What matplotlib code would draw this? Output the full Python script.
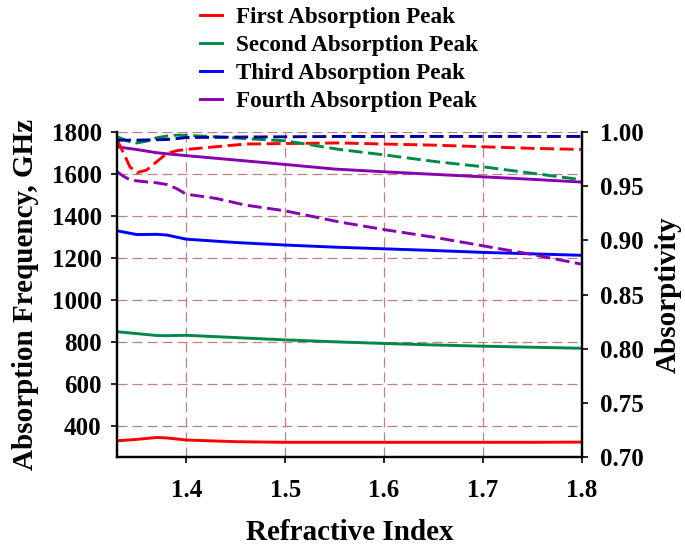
import numpy as np
import matplotlib
matplotlib.use("Agg")
import matplotlib.pyplot as plt
from matplotlib.lines import Line2D

plt.rcParams['font.family'] = ['Liberation Serif', 'DejaVu Serif']
plt.rcParams['font.weight'] = 'bold'

# absorption frequency (left axis, GHz)
x_freq = [1.33, 1.35, 1.37, 1.38, 1.40, 1.45, 1.50, 1.55, 1.60, 1.65, 1.70, 1.75, 1.80]
red_freq = [329, 336, 345, 343, 333, 325, 322, 322, 322, 322, 322, 322, 323]
green_freq = [849, 840, 831, 830, 832, 821, 810, 801, 793, 786, 780, 775, 770]
blue_freq = [1330, 1312, 1313, 1310, 1290, 1274, 1262, 1252, 1244, 1236, 1227, 1220, 1213]
purple_freq = [1730, 1717, 1702, 1697, 1688, 1667, 1646, 1624, 1611, 1599, 1587, 1575, 1562]

# absorptivity (right axis)
x_abs = [1.33, 1.337, 1.343, 1.35, 1.36, 1.37, 1.38, 1.39, 1.40, 1.43, 1.46,
         1.50, 1.555, 1.60, 1.65, 1.70, 1.75, 1.80]
red_abs = [0.993, 0.980, 0.968, 0.9625, 0.965, 0.9726, 0.980, 0.9828, 0.984, 0.9865,
           0.989, 0.9895, 0.990, 0.989, 0.988, 0.9865, 0.985, 0.984]
green_abs = [0.9957, 0.9932, 0.991, 0.990, 0.9917, 0.9948, 0.9963, 0.9972, 0.997, 0.9957,
             0.994, 0.992, 0.984, 0.979, 0.973, 0.968, 0.962, 0.956]
blue_abs = [0.9926, 0.9926, 0.9926, 0.9926, 0.9928, 0.993, 0.9932, 0.994, 0.995, 0.9953,
            0.9955, 0.9957, 0.996, 0.996, 0.996, 0.996, 0.996, 0.996]
purple_abs = [0.9634, 0.959, 0.956, 0.955, 0.954, 0.9532, 0.9517, 0.948, 0.9427, 0.9388,
              0.9326, 0.9273, 0.917, 0.910, 0.903, 0.895, 0.887, 0.878]

labels = ['First Absorption Peak', 'Second Absorption Peak',
          'Third Absorption Peak', 'Fourth Absorption Peak']
colors = ['#ff0000', '#00884a', '#0000ff', '#8800b0']
dash_colors = ['#ff0000', '#00884a', '#0000a0', '#8800b0']

fig = plt.figure(figsize=(6.85, 5.46), dpi=100)
ax = fig.add_axes([0.1708, 0.163, 0.6788, 0.595])
ax2 = ax.twinx()

lw = 2.1
for y, c in zip([red_freq, green_freq, blue_freq, purple_freq], colors):
    ax.plot(x_freq, y, color=c, lw=lw, solid_capstyle='butt')
for y, c in zip([red_abs, green_abs, blue_abs, purple_abs], dash_colors):
    ax2.plot(x_abs, y, color=c, lw=lw, dashes=(4.8, 1.9))

ax.set_xlim(1.33, 1.8)
ax.set_ylim(252, 1800)
ax2.set_ylim(0.70, 1.00)
ax.set_xticks([1.4, 1.5, 1.6, 1.7, 1.8])
ax.set_yticks(np.arange(400, 1801, 200))
ax2.set_yticks([0.70, 0.75, 0.80, 0.85, 0.90, 0.95, 1.00])
ax2.set_yticklabels([f'{v:.2f}' for v in [0.70, 0.75, 0.80, 0.85, 0.90, 0.95, 1.00]])

ax.grid(True, color='#c08080', linestyle=(0, (8, 4)), lw=0.9)
ax.set_axisbelow(True)

for a in (ax, ax2):
    a.spines['top'].set_visible(False)
    for s in ('left', 'right', 'bottom'):
        a.spines[s].set_linewidth(1.6)
    a.tick_params(labelsize=18, width=1.2, length=4, direction='out')

ax.tick_params(axis='x', pad=12)
ax.tick_params(axis='y', pad=7)
ax2.tick_params(axis='y', pad=9)
ax.set_xlabel('Refractive Index', fontsize=21, fontweight='bold', labelpad=12)
ax.set_ylabel('Absorption Frequency, GHz', fontsize=21, fontweight='bold', labelpad=9)
ax2.set_ylabel('Absorptivity', fontsize=21, fontweight='bold', labelpad=8)

handles = [Line2D([0], [0], color=c, lw=lw) for c in colors]
fig.legend(handles, labels, loc='upper left', bbox_to_anchor=(0.292, 0.988),
           frameon=False, handlelength=0.95, handletextpad=0.6,
           labelspacing=0.3, borderpad=0, borderaxespad=0,
           prop={'weight': 'bold', 'size': 16.7})

fig.savefig('out.png', dpi=100)
